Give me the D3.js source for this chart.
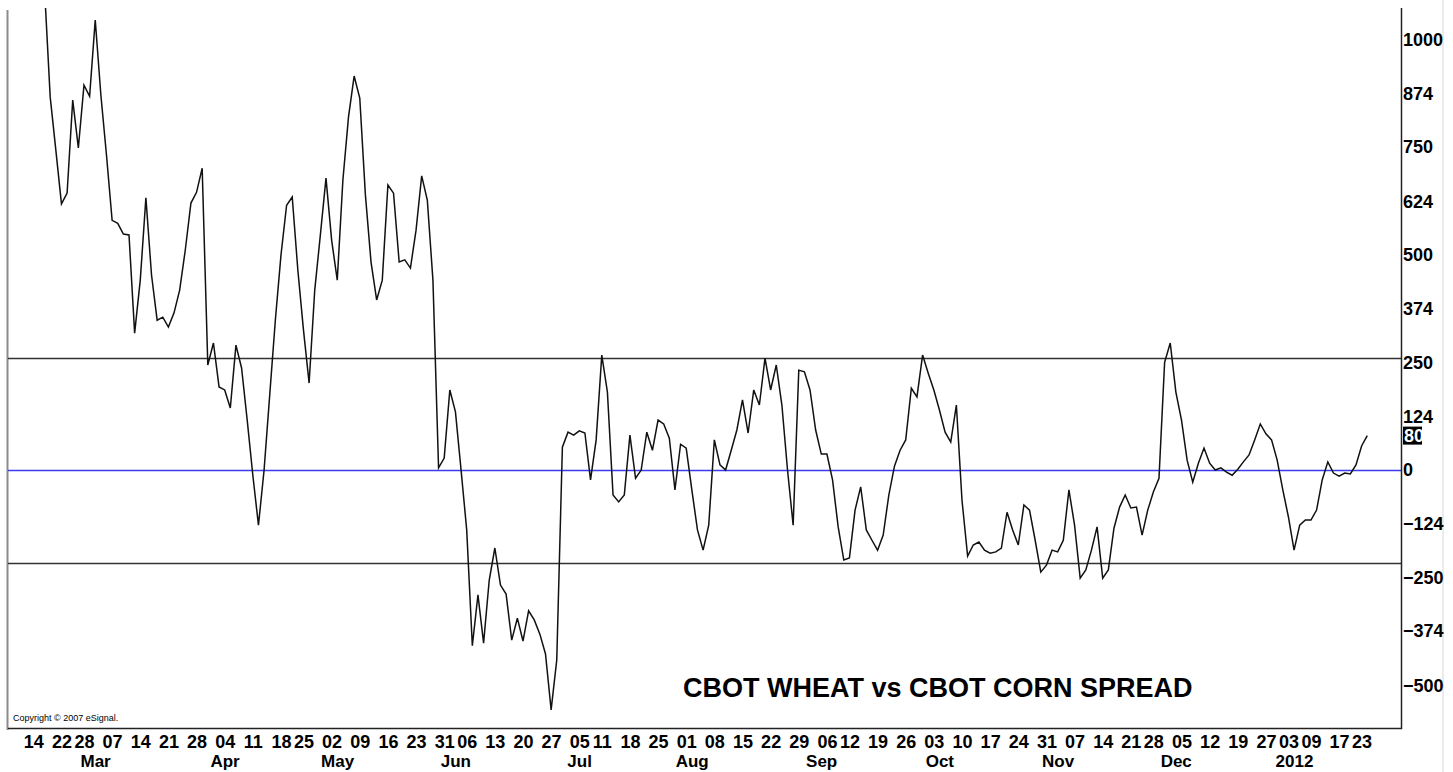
<!DOCTYPE html>
<html>
<head>
<meta charset="utf-8">
<script src="https://cdn.jsdelivr.net/npm/d3@7"></script>
<style>
  html, body { margin: 0; padding: 0; background: #fff; }
  svg { display: block; }
  text { font-family: "Liberation Sans", Arial, sans-serif; }
</style>
</head>
<body>
<svg id="root"></svg>
<script>
// trading calendar
const startDay = "2011-02-14";
const holidays = ["2011-02-21", "2011-04-22", "2011-05-30", "2011-07-04", "2011-09-05",
  "2011-11-24", "2011-12-26", "2012-01-02", "2012-01-16"];

// daily spread, one value per trading day from startDay
const spread = [
  1230, 1170, 1115, 866, 743, 618, 643, 859, 748, 894,
  868, 1045, 871, 731, 580, 573, 548, 546, 318, 441,
  632, 453, 348, 355, 332, 365, 418, 511, 620, 645,
  701, 244, 295, 193, 186, 144, 290, 237, 116, -12,
  -128, 0, 174, 348, 499, 615, 634, 464, 325, 202,
  418, 546, 678, 534, 441, 673, 820, 915, 864, 639,
  483, 395, 441, 662, 643, 483, 488, 469, 557, 683,
  627, 441, 5, 28, 186, 135, 0, -139, -408, -290,
  -402, -256, -181, -267, -288, -395, -344, -397, -327, -348,
  -381, -427, -557, -441, 53, 88, 81, 91, 86, -23,
  70, 267, 181, -58, -74, -58, 81, -19, 0, 88,
  46, 116, 107, 74, -46, 60, 51, -46, -139, -186,
  -128, 70, 12, 0, 46, 93, 163, 86, 186, 151,
  260, 186, 244, 151, 0, -128, 232, 228, 186, 93,
  37, 37, -23, -132, -209, -204, -93, -39, -139, -163,
  -186, -151, -58, 9, 46, 70, 190, 170, 267, 225,
  186, 139, 88, 65, 151, -70, -200, -174, -167, -186,
  -193, -190, -181, -98, -139, -174, -81, -93, -163, -237,
  -221, -186, -190, -163, -46, -128, -251, -232, -186, -132,
  -251, -232, -135, -86, -58, -88, -86, -151, -93, -51,
  -19, 250, 295, 181, 116, 23, -28, 16, 51, 16,
  0, 5, -5, -12, 2, 19, 35, 70, 107, 84,
  70, 23, -46, -109, -186, -128, -116, -116, -93, -23,
  19, -7, -14, -7, -9, 12, 56, 80
];

const weekTicks = ["2011-02-14", "2011-02-22", "2011-02-28", "2011-03-07", "2011-03-14",
  "2011-03-21", "2011-03-28", "2011-04-04", "2011-04-11", "2011-04-18", "2011-04-25",
  "2011-05-02", "2011-05-09", "2011-05-16", "2011-05-23", "2011-05-31", "2011-06-06",
  "2011-06-13", "2011-06-20", "2011-06-27", "2011-07-05", "2011-07-11", "2011-07-18",
  "2011-07-25", "2011-08-01", "2011-08-08", "2011-08-15", "2011-08-22", "2011-08-29",
  "2011-09-06", "2011-09-12", "2011-09-19", "2011-09-26", "2011-10-03", "2011-10-10",
  "2011-10-17", "2011-10-24", "2011-10-31", "2011-11-07", "2011-11-14", "2011-11-21",
  "2011-11-28", "2011-12-05", "2011-12-12", "2011-12-19", "2011-12-27", "2012-01-03",
  "2012-01-09", "2012-01-17", "2012-01-23"];

const monthNames = ["Mar", "Apr", "May", "Jun", "Jul", "Aug", "Sep", "Oct", "Nov", "Dec", "2012"];
const monthStarts = ["2011-03-01", "2011-04-01", "2011-05-02", "2011-06-01", "2011-07-01",
  "2011-08-01", "2011-09-01", "2011-10-03", "2011-11-01", "2011-12-01", "2012-01-03"];

const yTicks = [1000, 874, 750, 624, 500, 374, 250, 124, 0, -124, -250, -374, -500];
const bands = [261, -216];
const title = "CBOT WHEAT vs CBOT CORN SPREAD";

const W = 1453, H = 772;
const plot = { left: 8, right: 1401, top: 8, bottom: 728 };

const parse = d3.utcParse("%Y-%m-%d"), fmt = d3.utcFormat("%Y-%m-%d");
const days = [];
let d = parse(startDay);
while (days.length < spread.length) {
  const wd = d.getUTCDay();
  if (wd !== 0 && wd !== 6 && !holidays.includes(fmt(d))) days.push(fmt(d));
  d = d3.utcDay.offset(d, 1);
}
const dayIndex = new Map(days.map((s, i) => [s, i]));

const svg = d3.select("#root").attr("width", W).attr("height", H);

var xScale = d3.scaleLinear([-4.5, spread.length - 1 + 6], [plot.left, plot.right]);
var yScale = d3.scaleLinear([-599, 1073], [plot.bottom, plot.top]);

svg.append("clipPath")
  .attr("id", "chart-area")
  .append("rect")
  .attr("x", plot.left).attr("y", plot.top)
  .attr("width", plot.right - plot.left)
  .attr("height", plot.bottom - plot.top);

// far right gray rule
svg.append("line")
  .attr("x1", 1443).attr("x2", 1443).attr("y1", 0).attr("y2", H)
  .attr("stroke", "#d8d8d8").attr("stroke-width", 1);

// left border
svg.append("line")
  .attr("x1", plot.left - 0.5).attr("x2", plot.left - 0.5)
  .attr("y1", plot.top + 2).attr("y2", plot.bottom + 2)
  .attr("stroke", "#8c8c8c").attr("stroke-width", 2);

// band lines + zero line
svg.selectAll(".band")
  .data(bands)
  .join("line")
  .attr("class", "band")
  .attr("x1", plot.left).attr("x2", plot.right)
  .attr("y1", v => Math.round(yScale(v)) + 0.5).attr("y2", v => Math.round(yScale(v)) + 0.5)
  .attr("stroke", "#333").attr("stroke-width", 1.4);

svg.append("line")
  .attr("x1", plot.left).attr("x2", plot.right)
  .attr("y1", Math.round(yScale(0)) + 0.5).attr("y2", Math.round(yScale(0)) + 0.5)
  .attr("stroke", "#3b3bf0").attr("stroke-width", 1.4);

// spread line
var line = d3.line()
  .x((v, i) => xScale(i))
  .y(v => yScale(v));
svg.append("path")
  .datum(spread)
  .attr("clip-path", "url(#chart-area)")
  .attr("fill", "none")
  .attr("stroke", "#111")
  .attr("stroke-width", 1.5)
  .attr("d", line);

// frame: bottom and right
svg.append("path")
  .attr("d", `M${plot.left},${plot.bottom + 0.5}H${plot.right + 0.5}V${plot.top}`)
  .attr("fill", "none").attr("stroke", "#222").attr("stroke-width", 1.5);

// right axis
const yAxis = d3.axisRight(yScale).tickValues(yTicks).tickFormat(d3.format("d"))
  .tickSize(0).tickPadding(2);
const gy = svg.append("g")
  .attr("transform", `translate(${plot.right},0)`)
  .call(yAxis);
gy.select(".domain").remove();
gy.selectAll("text")
  .attr("font-family", "'Liberation Sans', Arial, sans-serif")
  .attr("font-size", 18).attr("font-weight", "bold").attr("fill", "#000");

// last value tag
const last = spread[spread.length - 1];
svg.append("rect")
  .attr("x", plot.right + 2).attr("y", yScale(last) - 9)
  .attr("width", 19).attr("height", 18)
  .attr("fill", "#000");
svg.append("text")
  .attr("x", plot.right + 3).attr("y", yScale(last))
  .attr("dy", "0.35em")
  .attr("font-size", 18).attr("font-weight", "bold").attr("fill", "#fff")
  .text(last);

// bottom axis: weekly
const xAxis = d3.axisBottom(xScale)
  .tickValues(weekTicks.map(s => dayIndex.get(s)))
  .tickFormat(i => days[i].slice(8, 10))
  .tickSize(0).tickPadding(7);
const gx = svg.append("g")
  .attr("transform", `translate(0,${plot.bottom})`)
  .call(xAxis);
gx.select(".domain").remove();
gx.selectAll("text")
  .attr("font-family", "'Liberation Sans', Arial, sans-serif")
  .attr("font-size", 18).attr("font-weight", "bold").attr("fill", "#000");

// month labels
svg.selectAll(".month")
  .data(monthNames)
  .join("text")
  .attr("class", "month")
  .attr("x", (m, i) => xScale(dayIndex.get(monthStarts[i])) + 6)
  .attr("y", 767)
  .attr("text-anchor", "middle")
  .attr("font-size", 17).attr("font-weight", "bold").attr("fill", "#000")
  .text(m => m);

// title
svg.append("text")
  .attr("x", 683).attr("y", 697)
  .attr("font-size", 27).attr("font-weight", "bold").attr("fill", "#000")
  .text(title);

svg.append("text")
  .attr("x", 13).attr("y", 721)
  .attr("font-size", 9).attr("fill", "#000")
  .text("Copyright \u00a9 2007 eSignal.");
</script>
</body>
</html>
